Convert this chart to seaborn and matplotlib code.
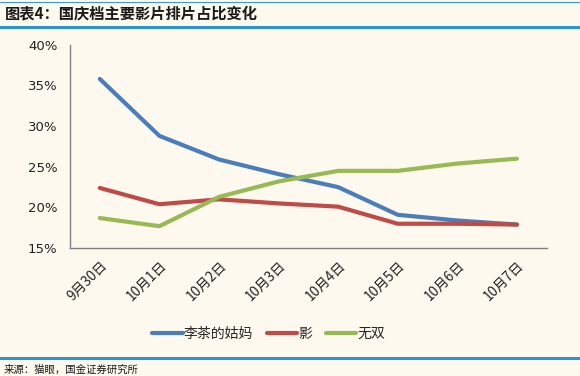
import numpy as np
import pandas as pd
import matplotlib
matplotlib.use("Agg")
import matplotlib.pyplot as plt
from matplotlib.lines import Line2D
import seaborn as sns

# data (share of screenings, %)
dates = ["9月30日", "10月1日", "10月2日", "10月3日", "10月4日", "10月5日", "10月6日", "10月7日"]
films = ["李茶的姑妈", "影", "无双"]
licha = [35.8, 28.8, 25.9, 24.1, 22.5, 19.1, 18.4, 17.9]
ying = [22.4, 20.4, 21.0, 20.5, 20.1, 18.0, 18.0, 17.9]
wushuang = [18.7, 17.7, 21.3, 23.2, 24.5, 24.5, 25.4, 26.0]
yticks = [15, 20, 25, 30, 35, 40]

df = pd.DataFrame({
    "day": list(range(len(dates))) * 3,
    "share": licha + ying + wushuang,
    "film": [films[0]] * 8 + [films[1]] * 8 + [films[2]] * 8,
})

bg = "#FDF9EE"
sns.set_style("white")
plt.rcParams["font.family"] = ["DejaVu Sans", "Noto Sans CJK SC"]

fig = plt.figure(figsize=(5.8, 3.76), dpi=100, facecolor=bg)
ax = fig.add_axes([0.1207, 0.340, 0.822, 0.541], facecolor=bg)

palette = {"李茶的姑妈": "#4A7EBB", "影": "#BE4B48", "无双": "#98B954"}
sns.lineplot(data=df, x="day", y="share", hue="film", palette=palette,
             linewidth=3.0, ax=ax, legend=False)

ax.set_ylim(15, 40)
ax.set_yticks(yticks)
ax.set_yticklabels([f"{v}%" for v in yticks], fontsize=9.5, color="#222222")
ax.set_xlim(-0.5, 7.5)
ax.set_xticks(np.arange(-0.5, 8, 1))
ax.set_xticklabels([])
ax.set_xticks(range(len(dates)), minor=True)
ax.set_xticklabels(dates, minor=True, rotation=45, ha="right", va="top",
                   rotation_mode="anchor", fontsize=9.8,
                   family=["Noto Sans CJK SC"], color="#222222")
ax.tick_params(axis="x", which="minor", length=0, pad=7)
ax.tick_params(axis="both", which="major", length=5, width=1, color="#808080",
               direction="out")
ax.tick_params(axis="y", pad=4)
ax.set_xlabel("")
ax.set_ylabel("")
for s in ["top", "right"]:
    ax.spines[s].set_visible(False)
for s in ["left", "bottom"]:
    ax.spines[s].set_color("#808080")
    ax.spines[s].set_linewidth(1)

# legend
handles = [Line2D([], [], color=palette[f], lw=3.0) for f in films]
fig.legend(handles, films, loc="center", bbox_to_anchor=(0.463, 0.112), ncol=3,
           frameon=False, handlelength=2.2, handletextpad=0.05, columnspacing=1.0,
           prop={"family": "Noto Sans CJK SC", "size": 10})

# title and decorations
fig.text(0.008, 0.963, "图表4：国庆档主要影片排片占比变化", fontsize=11, fontweight="bold",
         family=["Noto Sans CJK SC"], color="#1a1a1a", va="center")
fig.add_artist(Line2D([0, 1], [0.995, 0.995], color="#3A9AD0", lw=0.8))
fig.add_artist(Line2D([0, 1], [0.928, 0.928], color="#2E95CC", lw=2.2))
fig.add_artist(Line2D([0, 1], [0.048, 0.048], color="#2E95CC", lw=2.2))
fig.text(0.006, 0.017, "来源：猫眼，国金证券研究所", fontsize=7.5,
         family=["Noto Sans CJK SC"], color="#1a1a1a", va="center")

fig.savefig("out.png", dpi=100, facecolor=bg)
